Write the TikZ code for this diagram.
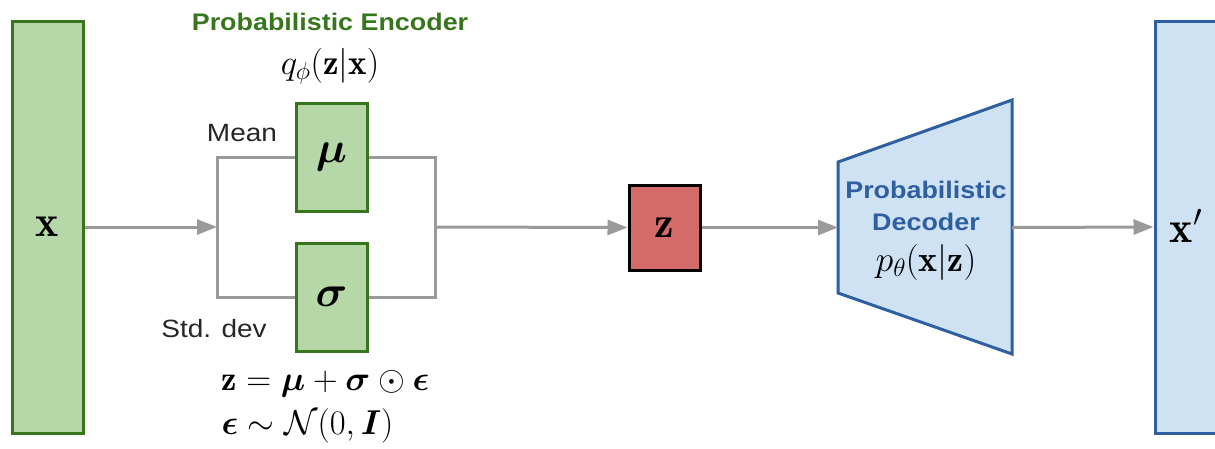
\RequirePackage{fix-cm}
\documentclass[tikz,border=0pt]{standalone}
\usepackage{amsmath,bm}
\usepackage{fontspec}
\setsansfont[FakeStretch=1.12]{Liberation Sans}
\usetikzlibrary{arrows.meta}

\definecolor{encfill}{HTML}{B6D7A8}
\definecolor{encline}{HTML}{38761D}
\definecolor{zfill}{HTML}{D46A6A}
\definecolor{decfill}{HTML}{CFE2F3}
\definecolor{decline}{HTML}{2E5FA0}
\definecolor{wirec}{HTML}{9A9A9A}

\begin{document}
\begin{tikzpicture}[x=1pt,y=-1pt,
  box/.style={draw, line width=3pt, inner sep=0pt, anchor=center},
  encbox/.style={box, draw=encline, fill=encfill},
  wire/.style={draw=wirec, line width=3pt},
  flow/.style={wire, -{Triangle[length=20pt,width=15pt]}},
  lbl/.style={font=\sffamily\fontsize{25}{28}\selectfont, text=black!85},
  head/.style={font=\sffamily\bfseries\fontsize{24}{27}\selectfont},
  eq/.style={font=\fontsize{34.5}{38}\selectfont},
  big/.style={font=\fontsize{44}{48}\selectfont}]
\useasboundingbox (0,0) rectangle (1215,448);

% input and encoder boxes
\node[encbox, minimum width=71pt, minimum height=412pt, big] (x) at (47.5,227) {$\mathbf{x}$};
\node[encbox, minimum width=71pt, minimum height=108pt, big] (mu) at (331.5,157) {\raisebox{7pt}{$\bm{\mu}$}};
\node[encbox, minimum width=71pt, minimum height=108pt, big] (sigma) at (331.5,297) {$\bm{\sigma}$};

% latent code
\node[box, draw=black, fill=zfill, minimum width=71pt, minimum height=85pt, big] (z) at (664.5,227.5) {$\mathbf{z}$};

% decoder trapezoid
\coordinate (decL) at (838,227.5);
\coordinate (decR) at (1012,227.5);
\draw[decline, fill=decfill, line width=3pt, line join=miter]
  (838,162) -- (1012,100) -- (1012,354) -- (838,293) -- cycle;
\node[head, text=decline] (dec1) at (926,190) {Probabilistic};
\node[head, text=decline] (dec2) at (926,222) {Decoder};
\node[eq, font=\fontsize{36}{40}\selectfont] (pth) at (926,262) {$p_\theta(\mathbf{x}|\mathbf{z})$};

% reconstruction box
\node[box, draw=decline, fill=decfill, minimum width=85pt, minimum height=412pt] (xp) at (1197.5,227) {};
\node[big] (xplbl) at (1186,226) {$\mathbf{x}'$};

% encoder wiring
\coordinate (inL) at (217,227);
\coordinate (outR) at (435,227);
\draw[flow] (x.east) -- (inL);
\draw[wire] (mu.west) -| (inL) |- (sigma.west);
\draw[wire] (mu.east) -| (outR) |- (sigma.east);
\draw[flow] (outR) -- (z.west);
\draw[flow] (z.east) -- (decL);
\draw[flow] (decR) -- (xp.west);

% encoder labels
\node[head, text=encline] (enc) at (330,22) {Probabilistic Encoder};
\node[eq, font=\fontsize{35}{39}\selectfont] (qphi) at (330,66) {$q_\phi(\mathbf{z}|\mathbf{x})$};
\node[lbl] (mean) at (242,133) {Mean};
\node[lbl] (std) at (214,329) {Std. dev};
\node[eq, anchor=west] (rep) at (218,384) {$\mathbf{z}=\bm{\mu}+\bm{\sigma}\odot\bm{\epsilon}$};
\node[eq, anchor=west] (noise) at (218,426) {$\bm{\epsilon}\sim\mathcal{N}(0,\bm{I})$};
\end{tikzpicture}
\end{document}
